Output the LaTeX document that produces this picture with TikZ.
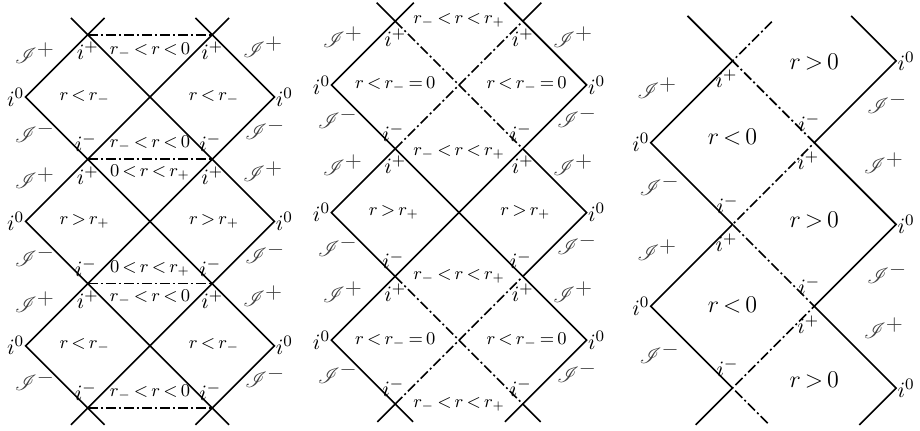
\documentclass[tikz,border=0pt]{standalone}
\usepackage{amsmath,amssymb}
\usepackage{mathrsfs}
\usepackage{tikz}
\usetikzlibrary{positioning,calc}

\thickmuskip=3mu\relax
\newcommand{\scri}[1]{\mathscr{I}^{\textstyle #1}}

\begin{document}
\begin{tikzpicture}[
  x=0.5pt,y=0.5pt,
  wline/.style={line width=0.8pt},
  hline/.style={line width=0.8pt,dash pattern=on 5pt off 1.5pt on 1pt off 1.5pt},
  lab/.style={font=\fontsize{9}{11}\selectfont,inner sep=0.5pt},
  ilab/.style={font=\fontsize{11}{13}\selectfont,inner sep=0.5pt},
  slab/.style={font=\fontsize{10.5}{12}\selectfont,inner sep=0.5pt,text=black!75},
  blab/.style={font=\fontsize{12.5}{14}\selectfont,inner sep=0.5pt}
]
\useasboundingbox (0,0) rectangle (920,431);

% ---- left diagram
\begin{scope}[shift={(150,334)},x=31.1pt,y=31.1pt]
  \coordinate (L-w1) at (-2,0);  \coordinate (L-e1) at (2,0);
  \coordinate (L-w2) at (-2,-2); \coordinate (L-e2) at (2,-2);
  \coordinate (L-w3) at (-2,-4); \coordinate (L-e3) at (2,-4);
  \coordinate (L-a0) at (-1,1);  \coordinate (L-b0) at (1,1);
  \coordinate (L-a1) at (-1,-1); \coordinate (L-b1) at (1,-1);
  \coordinate (L-a2) at (-1,-3); \coordinate (L-b2) at (1,-3);
  \coordinate (L-a3) at (-1,-5); \coordinate (L-b3) at (1,-5);
  \coordinate (L-t1) at (-1.27,1.27);  \coordinate (L-t2) at (-0.73,1.27);
  \coordinate (L-t3) at (0.73,1.27);   \coordinate (L-t4) at (1.27,1.27);
  \coordinate (L-s1) at (-1.27,-5.27); \coordinate (L-s2) at (-0.73,-5.27);
  \coordinate (L-s3) at (0.73,-5.27);  \coordinate (L-s4) at (1.27,-5.27);

  \draw[wline] (L-t2) -- (L-w1) -- (L-e3) -- (L-s3);
  \draw[wline] (L-t4) -- (L-w2) -- (L-s4);
  \draw[wline] (L-t3) -- (L-e1) -- (L-w3) -- (L-s2);
  \draw[wline] (L-t1) -- (L-e2) -- (L-s1);
  \draw[hline] (L-a0) -- (L-b0);
  \draw[hline] (L-a1) -- (L-b1);
  \draw[hline] (L-a2) -- (L-b2);
  \draw[hline] (L-a3) -- (L-b3);

  \foreach \k in {1,2,3} {
    \node[ilab,anchor=east] (L-iw\k) at (L-w\k) {$i^0$};
    \node[ilab,anchor=west] (L-ie\k) at (L-e\k) {$i^0$};
  }
  \foreach \k in {0,1,2} {
    \node[ilab,anchor=north,yshift=-3pt] (L-ipa\k) at (L-a\k) {$i^+$};
    \node[ilab,anchor=north,yshift=-3pt] (L-ipb\k) at (L-b\k) {$i^+$};
    \node[slab] (L-scp\k) at (-1.85,0.7-2*\k) {$\scri{+}$};
    \node[slab] (L-scm\k) at (-1.85,-0.56-2*\k) {$\scri{-}$};
    \node[slab] (L-scq\k) at (1.82,0.8-2*\k) {$\scri{+}$};
    \node[slab] (L-scn\k) at (1.85,-0.51-2*\k) {$\scri{-}$};
  }
  \foreach \k in {1,2,3} {
    \node[ilab,anchor=south,yshift=3pt,xshift=-1pt] (L-ima\k) at (L-a\k) {$i^-$};
    \node[ilab,anchor=south,yshift=3pt,xshift=-1pt] (L-imb\k) at (L-b\k) {$i^-$};
  }
  \node[lab] (L-r1) at (0,0.75) {$r_- < r < 0$};
  \node[lab] (L-r2) at (-1.05,0) {$r < r_-$};
  \node[lab] (L-r3) at (1.03,0) {$r < r_-$};
  \node[lab] (L-r4) at (0,-0.75) {$r_- < r < 0$};
  \node[lab] (L-r5) at (0,-1.22) {$0 < r < r_+$};
  \node[lab] (L-r6) at (-1.05,-2) {$r > r_+$};
  \node[lab] (L-r7) at (1.03,-2) {$r > r_+$};
  \node[lab] (L-r8) at (0,-2.75) {$0 < r < r_+$};
  \node[lab] (L-r9) at (0,-3.22) {$r_- < r < 0$};
  \node[lab] (L-r10) at (-1.05,-4) {$r < r_-$};
  \node[lab] (L-r11) at (1.03,-4) {$r < r_-$};
  \node[lab] (L-r12) at (0,-4.75) {$r_- < r < 0$};
\end{scope}

% ---- middle diagram
\begin{scope}[shift={(459,346)},x=31.9pt,y=31.9pt]
  \coordinate (M-w1) at (-2,0);  \coordinate (M-e1) at (2,0);
  \coordinate (M-w2) at (-2,-2); \coordinate (M-e2) at (2,-2);
  \coordinate (M-w3) at (-2,-4); \coordinate (M-e3) at (2,-4);
  \coordinate (M-a0) at (-1,1);  \coordinate (M-b0) at (1,1);
  \coordinate (M-a1) at (-1,-1); \coordinate (M-b1) at (1,-1);
  \coordinate (M-a2) at (-1,-3); \coordinate (M-b2) at (1,-3);
  \coordinate (M-a3) at (-1,-5); \coordinate (M-b3) at (1,-5);
  \coordinate (M-c2) at (0,-2);
  \coordinate (M-t1) at (-1.29,1.29);  \coordinate (M-t2) at (-0.71,1.29);
  \coordinate (M-t3) at (0.71,1.29);   \coordinate (M-t4) at (1.29,1.29);
  \coordinate (M-s1) at (-1.28,-5.28); \coordinate (M-s2) at (-0.72,-5.28);
  \coordinate (M-s3) at (0.72,-5.28);  \coordinate (M-s4) at (1.28,-5.28);

  \draw[wline] (M-t2) -- (M-a0) -- (M-w1) -- (M-a1) -- (M-c2) -- (M-b2) -- (M-e3) -- (M-b3) -- (M-s3);
  \draw[wline] (M-t3) -- (M-b0) -- (M-e1) -- (M-b1) -- (M-c2) -- (M-a2) -- (M-w3) -- (M-a3) -- (M-s2);
  \draw[wline] (M-t1) -- (M-a0);
  \draw[wline] (M-t4) -- (M-b0);
  \draw[wline] (M-a1) -- (M-w2) -- (M-a2);
  \draw[wline] (M-b1) -- (M-e2) -- (M-b2);
  \draw[wline] (M-a3) -- (M-s1);
  \draw[wline] (M-b3) -- (M-s4);
  \draw[hline] (M-a0) -- (M-b1);
  \draw[hline] (M-a1) -- (M-b0);
  \draw[hline] (M-a2) -- (M-b3);
  \draw[hline] (M-a3) -- (M-b2);

  \foreach \k in {1,2,3} {
    \node[ilab,anchor=east] (M-iw\k) at (M-w\k) {$i^0$};
    \node[ilab,anchor=west] (M-ie\k) at (M-e\k) {$i^0$};
  }
  \foreach \k in {0,1,2} {
    \node[ilab,anchor=north,yshift=-3pt] (M-ipa\k) at (M-a\k) {$i^+$};
    \node[ilab,anchor=north,yshift=-3pt] (M-ipb\k) at (M-b\k) {$i^+$};
    \node[slab] (M-scp\k) at (-1.82,0.75-2*\k) {$\scri{+}$};
    \node[slab] (M-scm\k) at (-1.9,-0.52-2*\k) {$\scri{-}$};
    \node[slab] (M-scq\k) at (1.79,0.75-2*\k) {$\scri{+}$};
    \node[slab] (M-scn\k) at (1.85,-0.5-2*\k) {$\scri{-}$};
  }
  \foreach \k in {1,2,3} {
    \node[ilab,anchor=south,yshift=3pt,xshift=-1pt] (M-ima\k) at (M-a\k) {$i^-$};
    \node[ilab,anchor=south,yshift=3pt,xshift=-1pt] (M-imb\k) at (M-b\k) {$i^-$};
  }
  \node[lab] (M-r1) at (0,1.02) {$r_- < r < r_+$};
  \node[lab] (M-r2) at (-1,0) {$r < r_- = 0$};
  \node[lab] (M-r3) at (1.06,0) {$r < r_- = 0$};
  \node[lab] (M-r4) at (0,-1.05) {$r_- < r < r_+$};
  \node[lab] (M-r5) at (-1.02,-2) {$r > r_+$};
  \node[lab] (M-r6) at (1.04,-2) {$r > r_+$};
  \node[lab] (M-r7) at (0,-3) {$r_- < r < r_+$};
  \node[lab] (M-r8) at (-1,-4) {$r < r_- = 0$};
  \node[lab] (M-r9) at (1.06,-4) {$r < r_- = 0$};
  \node[lab] (M-r10) at (0,-5) {$r_- < r < r_+$};
\end{scope}

% ---- right diagram
\begin{scope}[shift={(650.7,288.3)},x=40.9pt,y=40.9pt]
  \coordinate (R-w1) at (0,0);  \coordinate (R-w2) at (0,-2);
  \coordinate (R-a0) at (1,1);  \coordinate (R-a1) at (1,-1); \coordinate (R-a2) at (1,-3);
  \coordinate (R-b1) at (2,0);  \coordinate (R-b2) at (2,-2);
  \coordinate (R-e0) at (3,1);  \coordinate (R-e1) at (3,-1); \coordinate (R-e2) at (3,-3);
  \coordinate (R-t1) at (0.45,1.55); \coordinate (R-t2) at (2.45,1.55); \coordinate (R-t3) at (1.48,1.48);
  \coordinate (R-s1) at (0.55,-3.45); \coordinate (R-s2) at (2.55,-3.45); \coordinate (R-s3) at (1.45,-3.45);

  \draw[wline] (R-t1) -- (R-a0) -- (R-w1) -- (R-a1) -- (R-w2) -- (R-a2) -- (R-s1);
  \draw[wline] (R-t2) -- (R-e0) -- (R-b1) -- (R-e1) -- (R-b2) -- (R-e2) -- (R-s2);
  \draw[hline] (R-t3) -- (R-a0) -- (R-b1) -- (R-a1) -- (R-b2) -- (R-a2) -- (R-s3);

  \node[ilab,anchor=east] (R-iw1) at (R-w1) {$i^0$};
  \node[ilab,anchor=east] (R-iw2) at (R-w2) {$i^0$};
  \node[ilab,anchor=west] (R-ie0) at (R-e0) {$i^0$};
  \node[ilab,anchor=west] (R-ie1) at (R-e1) {$i^0$};
  \node[ilab,anchor=west] (R-ie2) at (R-e2) {$i^0$};
  \node[ilab,anchor=north,xshift=-3pt,yshift=-4pt] (R-ipa0) at (R-a0) {$i^+$};
  \node[ilab,anchor=north,xshift=-3pt,yshift=-4pt] (R-ipa1) at (R-a1) {$i^+$};
  \node[ilab,anchor=north,xshift=-3pt,yshift=-4pt] (R-ipb1) at (R-b1) {$i^+$};
  \node[ilab,anchor=north,xshift=-3pt,yshift=-4pt] (R-ipb2) at (R-b2) {$i^+$};
  \node[ilab,anchor=south,xshift=-2.5pt,yshift=5pt] (R-imb1) at (R-b1) {$i^-$};
  \node[ilab,anchor=south,xshift=-2.5pt,yshift=5pt] (R-ima1) at (R-a1) {$i^-$};
  \node[ilab,anchor=south,xshift=-2.5pt,yshift=5pt] (R-imb2) at (R-b2) {$i^-$};
  \node[ilab,anchor=south,xshift=-2.5pt,yshift=5pt] (R-ima2) at (R-a2) {$i^-$};
  \node[slab] (R-scp1) at (0.08,0.67) {$\scri{+}$};
  \node[slab] (R-scm1) at (0.11,-0.52) {$\scri{-}$};
  \node[slab] (R-scp2) at (0.08,-1.31) {$\scri{+}$};
  \node[slab] (R-scm2) at (0.11,-2.57) {$\scri{-}$};
  \node[slab] (R-scn1) at (2.89,0.48) {$\scri{-}$};
  \node[slab] (R-scq1) at (2.85,-0.25) {$\scri{+}$};
  \node[slab] (R-scn2) at (2.89,-1.59) {$\scri{-}$};
  \node[slab] (R-scq2) at (2.85,-2.27) {$\scri{+}$};
  \node[blab] (R-r1) at (2,0.99) {$r > 0$};
  \node[blab] (R-r2) at (1,0.07) {$r < 0$};
  \node[blab] (R-r3) at (2,-0.95) {$r > 0$};
  \node[blab] (R-r4) at (1,-1.98) {$r < 0$};
  \node[blab] (R-r5) at (2,-2.9) {$r > 0$};
\end{scope}
\end{tikzpicture}
\end{document}
